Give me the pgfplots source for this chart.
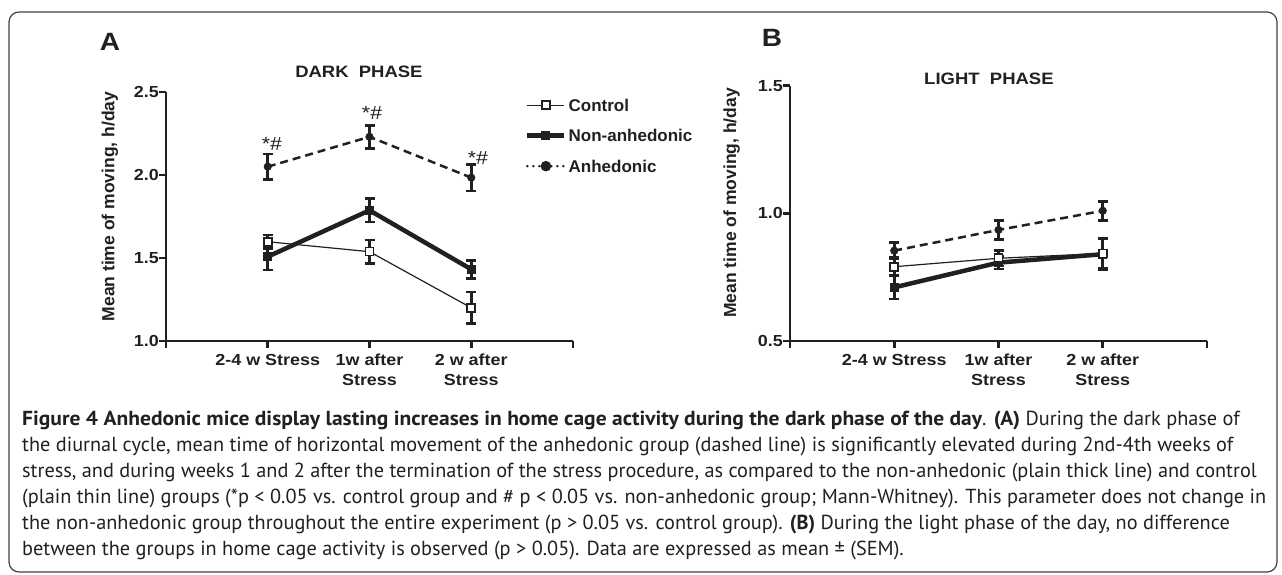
\documentclass[border=0pt]{standalone}
\usepackage{fontspec}
\usepackage{pgfplots}
\pgfplotsset{compat=1.18}
\setmainfont{Liberation Sans}
\newfontfamily\cf[FakeStretch=1.12]{Liberation Sans}
\newfontfamily\capfont{PT Sans}
\newfontfamily\capwide[FakeStretch=1.06]{PT Sans}
\definecolor{ink}{HTML}{231F20}

\pgfplotsset{
  myax/.style={
    scale only axis, clip=false,
    axis lines=left,
    axis line style={-, line width=2.7pt, color=ink},
    every tick/.style={line width=2.7pt, color=ink},
    major tick length=7pt, tick align=outside,
    xmin=0, xmax=4, xtick={0,1,2,3,4},
    xticklabels={,2-4 w Stress,{1w after\\Stress},{2 w after\\Stress},},
    xticklabel style={font=\cf\bfseries\fontsize{16}{20}\selectfont, align=center, anchor=north, inner sep=0pt, yshift=-6pt, text=ink},
    yticklabel style={font=\cf\bfseries\fontsize{16}{16}\selectfont, anchor=east, inner sep=0pt, xshift=0pt, text=ink},
    ylabel={Mean time of moving, h/day},
    ylabel style={font=\bfseries\fontsize{17.5}{17.5}\selectfont, anchor=center, text=ink},
    title style={font=\cf\bfseries\fontsize{16.5}{16.5}\selectfont, anchor=center, text=ink},
  },
  ctrl/.style={ink, line width=1.2pt, mark=square*, mark size=4pt, mark options={fill=white, line width=1.6pt, solid}},
  nonanh/.style={ink, line width=4.5pt, mark=square*, mark size=4pt, mark options={fill=ink, solid, line width=1pt}},
  anh/.style={ink, line width=2.5pt, dash pattern=on 8pt off 5pt, mark=*, mark size=3.8pt, mark options={solid, fill=ink, line width=0.5pt}},
  eb/.style={error bars/.cd, y dir=both, y explicit,
    error bar style={line width=2.7pt, solid, ink},
    error mark options={rotate=90, mark size=5pt, line width=2.7pt, ink, solid}, /pgfplots/.cd},
}

\begin{document}
\begin{tikzpicture}[x=1pt,y=1pt]
\useasboundingbox (0,0) rectangle (1282,575);
\draw[line width=1.2pt, color=ink!85, rounded corners=10pt] (9,3) rectangle (1277,563);

% Panel A
\begin{axis}[myax, at={(166pt,234pt)}, anchor=south west, width=407pt, height=249pt,
  ymin=1, ymax=2.5, ytick={1,1.5,2,2.5}, yticklabels={1.0,1.5,2.0,2.5},
  ylabel style={at={(axis description cs:-0.1376,0.54)}},
  title={DARK\ \ PHASE}, title style={at={(axis description cs:0.474,1.055)}},
  legend image code/.code={\draw[mark repeat=2,mark phase=2,#1] plot coordinates {(0pt,0pt) (18.5pt,0pt) (37pt,0pt)};},
  legend style={draw=none, fill=none, inner sep=0pt, at={(axis description cs:0.882,0.972)}, anchor=north west,
    font=\bfseries\fontsize{17}{17}\selectfont, text=ink, row sep=18.5pt,
    nodes={inner sep=0pt, inner xsep=2pt, text height=12pt, text depth=0pt}},
  legend cell align=left]
\addlegendimage{ctrl}
\addlegendentry{Control}
\addlegendimage{nonanh}
\addlegendentry{Non-anhedonic}
\addlegendimage{ink, line width=2.8pt, line cap=round, dash pattern=on 0pt off 6pt, mark=*, mark size=3.8pt, mark options={solid, fill=ink}}
\addlegendentry{Anhedonic}
\addplot[anh, forget plot, eb] coordinates {(1,2.050) +- (0,0.077) (2,2.230) +- (0,0.070) (3,1.984) +- (0,0.080)};
\addplot[nonanh, forget plot, eb] coordinates {(1,1.508) +- (0,0.080) (2,1.787) +- (0,0.070) (3,1.432) +- (0,0.055)};
\addplot[ctrl, forget plot, eb] coordinates {(1,1.598) +- (0,0.040) (2,1.538) +- (0,0.070) (3,1.200) +- (0,0.095)};
\node[font=\cf\fontsize{19}{19}\selectfont, text=ink] at (axis cs:1.042,2.187) {*\#};
\node[font=\cf\fontsize{19}{19}\selectfont, text=ink] at (axis cs:2.025,2.373) {*\#};
\node[font=\cf\fontsize{19}{19}\selectfont, text=ink] at (axis cs:3.066,2.102) {*\#};
\end{axis}

% Panel B
\begin{axis}[myax, at={(790pt,234pt)}, anchor=south west, width=417pt, height=255.3pt,
  ymin=0.5, ymax=1.5, ytick={0.5,1,1.5}, yticklabels={0.5,1.0,1.5},
  ylabel style={at={(axis description cs:-0.140,0.541)}},
  title={LIGHT\ \ PHASE}, title style={at={(axis description cs:0.477,1.005)}}]
\addplot[anh, eb] coordinates {(1,0.854) +- (0,0.032) (2,0.935) +- (0,0.037) (3,1.010) +- (0,0.037)};
\addplot[nonanh, eb] coordinates {(1,0.710) +- (0,0.045) (2,0.807) +- (0,0.025) (3,0.840) +- (0,0.060)};
\addplot[ctrl, eb] coordinates {(1,0.791) +- (0,0.035) (2,0.824) +- (0,0.030) (3,0.843) +- (0,0.060)};
\end{axis}

\node[font=\cf\bfseries\fontsize{25}{25}\selectfont, text=ink] at (110,533) {A};
\node[font=\cf\bfseries\fontsize{25}{25}\selectfont, text=ink] at (772,537) {B};

\begin{scope}[every node/.style={anchor=base west, inner sep=0pt, text=ink, font=\capfont\fontsize{20.3}{20.3}\selectfont}]
\node at (22,149) {{\capwide\bfseries Figure 4 Anhedonic mice display lasting increases in home cage activity during the dark phase of the day}. {\capwide\bfseries (A)} During the dark phase of};
\node at (22,123) {the diurnal cycle, mean time of horizontal movement of the anhedonic group (dashed line) is significantly elevated during 2nd-4th weeks of};
\node at (22,97) {stress, and during weeks 1 and 2 after the termination of the stress procedure, as compared to the non-anhedonic (plain thick line) and control};
\node at (22,71) {(plain thin line) groups (*p < 0.05 vs. control group and \# p < 0.05 vs. non-anhedonic group; Mann-Whitney). This parameter does not change in};
\node at (22,45) {the non-anhedonic group throughout the entire experiment (p > 0.05 vs. control group). \textbf{(B)} During the light phase of the day, no difference};
\node at (22,19) {between the groups in home cage activity is observed (p > 0.05). Data are expressed as mean ± (SEM).};
\end{scope}
\end{tikzpicture}
\end{document}
